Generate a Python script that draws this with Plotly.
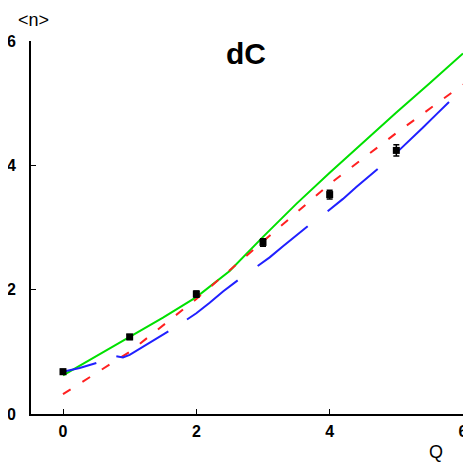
import plotly.graph_objects as go

# Data points
pts_x = [0, 1, 2, 3, 4, 5]
pts_y = [0.68, 1.24, 1.93, 2.76, 3.53, 4.24]
pts_err = [0.04, 0.04, 0.05, 0.06, 0.07, 0.09]

# Green solid curve
green_x = [0, 0.5, 1, 1.5, 2, 2.5, 3, 3.5, 4, 4.5, 5, 5.5, 6]
green_y = [0.62, 0.93, 1.24, 1.55, 1.88, 2.3, 2.85, 3.38, 3.88, 4.37, 4.85, 5.32, 5.8]

# Red dashed curve
red_x = [0, 1, 2, 3, 4, 5, 6]
red_y = [0.32, 1.0, 1.85, 2.77, 3.7, 4.52, 5.3]

# Blue segments
blue_segments = [
    ([0.0, 0.25, 0.5], [0.68, 0.74, 0.82]),
    ([0.8, 0.9, 1.0, 1.2, 1.4, 1.58], [0.93, 0.91, 0.95, 1.08, 1.2, 1.33]),
    ([1.86, 2.0, 2.2, 2.4, 2.62], [1.52, 1.62, 1.79, 1.97, 2.15]),
    ([2.92, 3.1, 3.3, 3.5, 3.67], [2.38, 2.52, 2.7, 2.87, 3.02]),
    ([3.97, 4.2, 4.4, 4.6, 4.72], [3.26, 3.46, 3.65, 3.83, 3.94]),
    ([5.0, 5.2, 5.4, 5.6, 5.79], [4.2, 4.4, 4.61, 4.82, 5.02]),
]

fig = go.Figure()

fig.add_trace(go.Scatter(x=green_x, y=green_y, mode="lines",
                         line=dict(color="#00e000", width=2), showlegend=False))
fig.add_trace(go.Scatter(x=red_x, y=red_y, mode="lines",
                         line=dict(color="#ff2020", width=2, dash="9px,14px"), showlegend=False))
for bx, by in blue_segments:
    fig.add_trace(go.Scatter(x=bx, y=by, mode="lines",
                             line=dict(color="#2020ff", width=2), showlegend=False))
fig.add_trace(go.Scatter(x=pts_x, y=pts_y, mode="markers",
                         marker=dict(symbol="square", size=7, color="black"),
                         error_y=dict(type="data", array=pts_err, color="black",
                                      thickness=1.5, width=3),
                         showlegend=False))

tickfont = dict(family="Liberation Sans", size=16, color="black", weight="bold")

# page body has an 8px default margin, so the figure is sized/offset to compensate
W, H = 463, 457
L, T = 23, 33
PW, PH = 432, 373

fig.update_layout(
    width=W, height=H,
    margin=dict(l=L, r=W - L - PW, t=T, b=H - T - PH),
    plot_bgcolor="white", paper_bgcolor="white",
    xaxis=dict(range=[-0.48, 6.0], tickvals=[0, 2, 4, 6], ticktext=["0", "2", "4", "6"],
               showgrid=False, zeroline=False, showline=True, linecolor="black",
               linewidth=2, ticks="inside", ticklen=5, tickcolor="black",
               tickfont=tickfont, ticklabelstandoff=2, automargin=False),
    yaxis=dict(range=[0, 6], tickvals=[0, 2, 4, 6], ticktext=["0", "2", "4", "6"],
               showgrid=False, zeroline=False, showline=True, linecolor="black",
               linewidth=2, ticks="inside", ticklen=5, tickcolor="black",
               tickfont=tickfont, ticklabelstandoff=10, automargin=False),
    annotations=[
        dict(text="dC", xref="paper", yref="paper", x=(246 - 31) / PW, y=1 - (53 - 41) / PH,
             showarrow=False, xanchor="center", yanchor="middle",
             font=dict(family="Liberation Sans", size=30, color="black", weight="bold")),
        dict(text="&lt;n&gt;", xref="paper", yref="paper", x=(33 - 31) / PW, y=1 + (41 - 20) / PH,
             showarrow=False, xanchor="center", yanchor="middle",
             font=dict(family="Liberation Sans", size=18, color="black")),
        dict(text="Q", xref="paper", yref="paper", x=(436 - 31) / PW, y=-(452 - 414) / PH,
             showarrow=False, xanchor="center", yanchor="middle",
             font=dict(family="Liberation Sans", size=18, color="black")),
    ],
)

fig.write_html("out.html")
